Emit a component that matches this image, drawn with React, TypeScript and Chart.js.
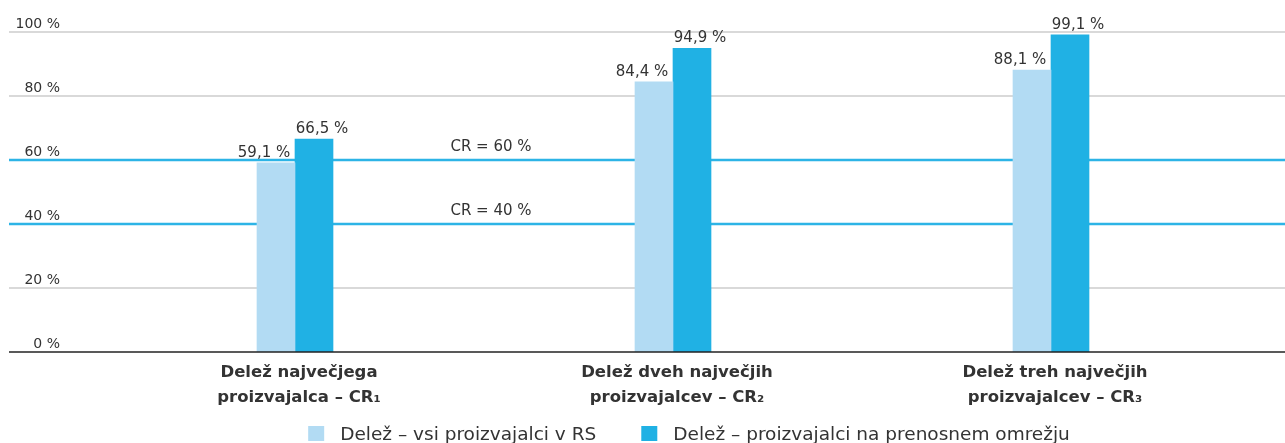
import React, { useEffect, useRef } from 'react';
import { Chart, registerables } from 'chart.js';

Chart.register(...registerables);

const categories = [
  ['Delež največjega', 'proizvajalca – CR₁'],
  ['Delež dveh največjih', 'proizvajalcev – CR₂'],
  ['Delež treh največjih', 'proizvajalcev – CR₃'],
];
const seriesNames = ['Delež – vsi proizvajalci v RS', 'Delež – proizvajalci na prenosnem omrežju'];
const seriesAll = [59.1, 84.4, 88.1];
const seriesTransmission = [66.5, 94.9, 99.1];
const yTicks = [0, 20, 40, 60, 80, 100];
const thresholds = [60, 40];
const thresholdLabels = ['CR = 60 %', 'CR = 40 %'];

const FAMILY = '"DejaVu Sans", sans-serif';
const TEXT = '#333333';
const LIGHT = '#b2dbf3';
const DARK = '#20b1e4';
const LINE_BLUE = '#2db4e6';
const GRID = '#cccccc';

const fmt = (v: number) => v.toFixed(1).replace('.', ',') + ' %';

const customPlugin = {
  id: 'customDraw',
  beforeDatasetsDraw(chart: any) {
    const ctx = chart.ctx;
    const y = chart.scales.y;
    const x = chart.scales.x;
    ctx.save();
    yTicks.forEach((t) => {
      const py = y.getPixelForValue(t);
      if (t !== 0) {
        const isThr = thresholds.includes(t);
        ctx.strokeStyle = isThr ? LINE_BLUE : GRID;
        ctx.lineWidth = isThr ? 2.5 : 1.5;
        ctx.beginPath();
        ctx.moveTo(9, py);
        ctx.lineTo(chart.width, py);
        ctx.stroke();
      }
      ctx.fillStyle = TEXT;
      ctx.font = `14px ${FAMILY}`;
      ctx.textAlign = 'right';
      ctx.textBaseline = 'alphabetic';
      ctx.fillText(t + ' %', 60, py - 4);
    });
    const midX = (x.getPixelForValue(0) + x.getPixelForValue(1)) / 2 + 7;
    thresholds.forEach((t, i) => {
      const py = y.getPixelForValue(t);
      ctx.fillStyle = TEXT;
      ctx.font = `15px ${FAMILY}`;
      ctx.textAlign = 'center';
      ctx.textBaseline = 'alphabetic';
      ctx.fillText(thresholdLabels[i], midX, py - 9);
    });
    ctx.restore();
  },
  afterDatasetsDraw(chart: any) {
    const ctx = chart.ctx;
    const y = chart.scales.y;
    const x = chart.scales.x;
    ctx.save();
    const py0 = y.getPixelForValue(0);
    ctx.strokeStyle = '#222222';
    ctx.lineWidth = 1.5;
    ctx.beginPath();
    ctx.moveTo(9, py0);
    ctx.lineTo(chart.width, py0);
    ctx.stroke();

    // data labels
    ctx.fillStyle = TEXT;
    ctx.font = `15px ${FAMILY}`;
    ctx.textAlign = 'center';
    ctx.textBaseline = 'alphabetic';
    chart.data.datasets.forEach((ds: any, di: number) => {
      const meta = chart.getDatasetMeta(di);
      meta.data.forEach((bar: any, j: number) => {
        const dx = di === 0 ? -12 : 8;
        ctx.fillText(fmt(ds.data[j]), bar.x + dx, bar.y - 6);
      });
    });

    // category labels
    ctx.font = `bold 16.5px ${FAMILY}`;
    ctx.textAlign = 'center';
    chart.data.labels.forEach((lab: string[], i: number) => {
      const cx = x.getPixelForValue(i) + 4;
      lab.forEach((line: string, k: number) => {
        ctx.fillText(line, cx, py0 + 25 + k * 25);
      });
    });

    // legend
    const area = chart.chartArea;
    const box = 16;
    const gapBoxText = 16;
    const gapItems = 45;
    ctx.font = `18.5px ${FAMILY}`;
    const widths = chart.data.datasets.map((ds: any) => box + gapBoxText + ctx.measureText(ds.label).width);
    const total = widths.reduce((a: number, b: number) => a + b, 0) + gapItems * (widths.length - 1);
    let lx = (area.left + area.right) / 2 + 16 - total / 2;
    const ly = 426;
    chart.data.datasets.forEach((ds: any, i: number) => {
      ctx.fillStyle = ds.backgroundColor;
      ctx.fillRect(lx, ly, box, 15);
      ctx.fillStyle = TEXT;
      ctx.textAlign = 'left';
      ctx.textBaseline = 'alphabetic';
      ctx.fillText(ds.label, lx + box + gapBoxText, 440);
      lx += widths[i] + gapItems;
    });
    ctx.restore();
  },
};

export default function App() {
  const ref = useRef<HTMLCanvasElement>(null);
  useEffect(() => {
    const chart = new Chart(ref.current as HTMLCanvasElement, {
      type: 'bar',
      data: {
        labels: categories,
        datasets: [
          { label: seriesNames[0], data: seriesAll, backgroundColor: LIGHT, barThickness: 38 },
          { label: seriesNames[1], data: seriesTransmission, backgroundColor: DARK, barThickness: 38 },
        ],
      },
      options: {
        animation: false,
        responsive: true,
        maintainAspectRatio: false,
        layout: { padding: { left: 106, right: 45, top: 32, bottom: 91 } },
        plugins: { legend: { display: false }, tooltip: { enabled: false } },
        scales: {
          x: { display: false },
          y: { display: false, min: 0, max: 100 },
        },
      },
      plugins: [customPlugin],
    } as any);
    return () => chart.destroy();
  }, []);
  return (
    <div style={{ position: 'fixed', left: 0, top: 0, width: 1285, height: 443, background: '#fff' }}>
      <canvas ref={ref} />
    </div>
  );
}
